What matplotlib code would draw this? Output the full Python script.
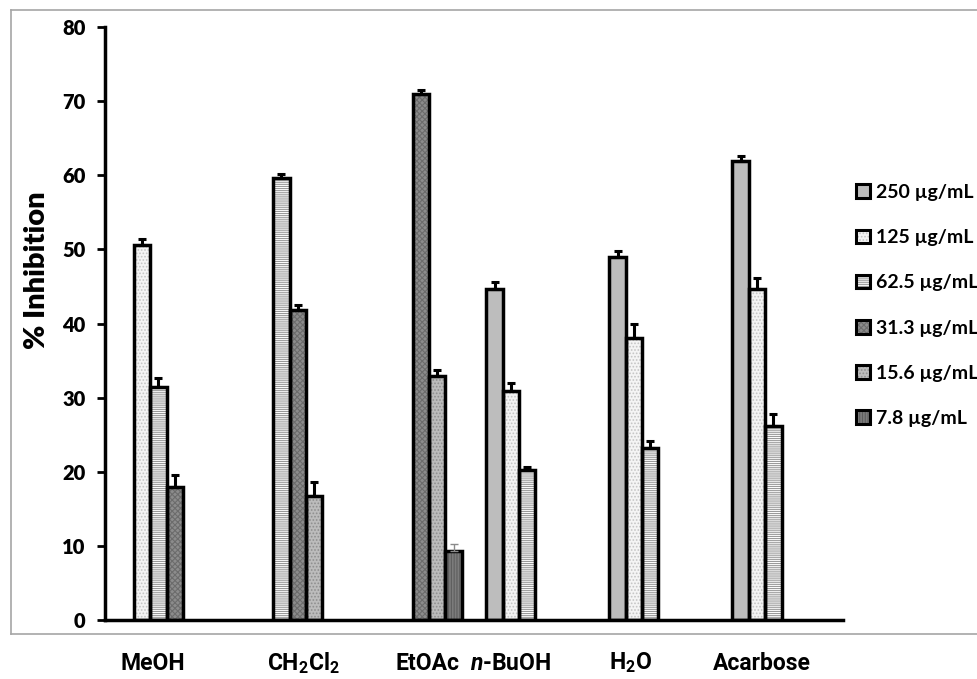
import numpy as np
import matplotlib
matplotlib.use("Agg")
import matplotlib.pyplot as plt
import matplotlib.transforms as mtrans
from matplotlib.patches import Patch
from matplotlib.legend_handler import HandlerTuple
from matplotlib.lines import Line2D

plt.rcParams['font.family'] = ['Lato', 'DejaVu Sans']
plt.rcParams['font.weight'] = 'bold'
plt.rcParams['mathtext.fontset'] = 'custom'
plt.rcParams['mathtext.rm'] = 'Roboto:bold'
plt.rcParams['mathtext.it'] = 'Roboto:italic:bold'
plt.rcParams['mathtext.bf'] = 'Roboto:bold'
plt.rcParams['hatch.linewidth'] = 0.8

categories = ["MeOH", r"CH$_2$Cl$_2$", "EtOAc", r"$\mathit{n}$-BuOH", r"H$_2$O", "Acarbose"]
series_labels = ["250 µg/mL", "125 µg/mL", "62.5 µg/mL", "31.3 µg/mL", "15.6 µg/mL", "7.8 µg/mL"]
nan = np.nan
v250 = [nan, nan, nan, 44.6, 49.0, 61.9]
v125 = [50.6, nan, nan, 30.9, 38.1, 44.7]
v62 = [31.5, 59.6, nan, 20.3, 23.2, 26.2]
v31 = [18.0, 41.8, 71.0, nan, nan, nan]
v15 = [nan, 16.7, 32.9, nan, nan, nan]
v7 = [nan, nan, 9.3, nan, nan, nan]
e250 = [0, 0, 0, 1.0, 0.8, 0.7]
e125 = [0.8, 0, 0, 1.1, 1.8, 1.4]
e62 = [1.1, 0.6, 0, 0.4, 1.0, 1.6]
e31 = [1.5, 0.7, 0.5, 0, 0, 0]
e15 = [0, 1.9, 0.8, 0, 0, 0]
e7 = [0, 0, 0.9, 0, 0, 0]

values = [v250, v125, v62, v31, v15, v7]
errors = [e250, e125, e62, e31, e15, e7]
faces = ['#bdbdbd', '#f4f4f4', '#ffffff', '#8c8c8c', '#bcbcbc', '#7c7c7c']
hatches = [None, '.....', '--------', 'xxxxxx', '.....', '||||||']
hcolors = ['#bdbdbd', '#c4c4c4', '#9a9a9a', '#6c6c6c', '#8f8f8f', '#5e5e5e']
ecolors = ['black', 'black', 'black', 'black', 'black', '#8a8a8a']
elw = [2.2, 2.2, 2.2, 2.2, 2.2, 1.0]

# small horizontal nudges (pixels) of the hand-placed category captions
label_dx = [-5, 6, -10, 0, -3, 5]

W, H = 977, 679
fig = plt.figure(figsize=(W / 100, H / 100), dpi=100)
ax = fig.add_axes([105 / W, (H - 620) / H, (843 - 105) / W, (620 - 27) / H])

x = np.arange(len(categories))
n = len(values)
w = 1 / 7.5
for i in range(n):
    pos = x + (i - (n - 1) / 2) * w
    vals = np.array(values[i], dtype=float)
    ax.bar(pos, vals, w, color=faces[i], hatch=hatches[i], edgecolor=hcolors[i], linewidth=0, zorder=2)
    ax.bar(pos, vals, w, fill=False, edgecolor='black', linewidth=2.5, zorder=3)
    err = np.array(errors[i], dtype=float)
    mask = ~np.isnan(vals)
    ax.errorbar(pos[mask], vals[mask], yerr=[np.zeros(mask.sum()), err[mask]], fmt='none',
                ecolor=ecolors[i], elinewidth=elw[i], capsize=3, capthick=elw[i], zorder=4)

ax.set_xlim(-0.5, len(categories) - 0.5)
ax.set_ylim(0, 80)
ax.set_yticks(np.arange(0, 81, 10))
ax.set_xticks([])
for s in ['top', 'right']:
    ax.spines[s].set_visible(False)
for s in ['left', 'bottom']:
    ax.spines[s].set_linewidth(2.5)
ax.tick_params(axis='y', direction='out', length=6, width=2, labelsize=14.5, pad=8)
for lab in ax.get_yticklabels():
    lab.set_fontweight('heavy')
ax.set_ylabel('% Inhibition', fontsize=21, fontweight='heavy')
ax.yaxis.set_label_coords(50 / W, (H - 270) / H, transform=fig.transFigure)

# category labels below the chart frame, centred on each group's bars
trans = mtrans.blended_transform_factory(ax.transData, fig.transFigure)
for j, cat in enumerate(categories):
    present = [x[j] + (i - (n - 1) / 2) * w for i in range(n) if not np.isnan(values[i][j])]
    t = ax.text(np.mean(present), (H - 663) / H, cat, ha='center', va='center',
                fontsize=16.5, fontweight='bold', family=['Roboto', 'DejaVu Sans'])
    t.set_transform(trans + mtrans.ScaledTranslation(label_dx[j] / 100, 0, fig.dpi_scale_trans))

# chart frame
fx0, fy0, fy1 = 10.5 / W, (H - 634) / H, (H - 9.5) / H
for xs, ys in [([fx0, 1.0], [fy1, fy1]), ([fx0, 1.0], [fy0, fy0]), ([fx0, fx0], [fy0, fy1])]:
    fig.add_artist(Line2D(xs, ys, transform=fig.transFigure, color='#a6a6a6', lw=1.2))

handles = []
for i in range(n):
    base = Patch(facecolor=faces[i], hatch=hatches[i], edgecolor=hcolors[i], linewidth=0)
    outline = Patch(fill=False, edgecolor='black', linewidth=2.2)
    handles.append((base, outline))
leg = fig.legend(handles, series_labels, handler_map={tuple: HandlerTuple(ndivide=1, pad=0)},
                 loc='upper left', bbox_to_anchor=(856 / W, (H - 184) / H), frameon=False,
                 handlelength=0.7, handleheight=0.7, handletextpad=0.35, labelspacing=1.45,
                 borderaxespad=0, borderpad=0,
                 prop={'family': ['Lato', 'DejaVu Sans'], 'weight': 'bold', 'size': 14})

fig.savefig('out.png', dpi=100)
